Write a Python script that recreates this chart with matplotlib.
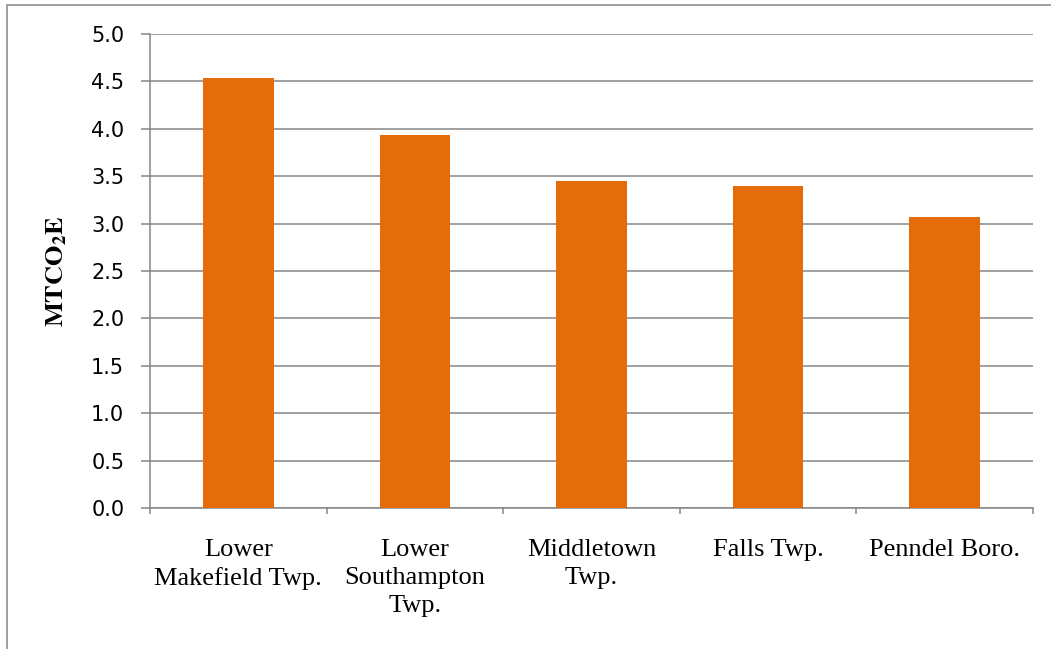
import numpy as np
import matplotlib
matplotlib.use("Agg")
import matplotlib.pyplot as plt
from matplotlib.patches import Rectangle

places = ["Lower\nMakefield Twp.", "Lower\nSouthampton\nTwp.", "Middletown\nTwp.",
          "Falls Twp.", "Penndel Boro."]
mtco2e = [4.54, 3.93, 3.45, 3.40, 3.07]
yticks = [0.0, 0.5, 1.0, 1.5, 2.0, 2.5, 3.0, 3.5, 4.0, 4.5, 5.0]

W, H = 1051, 649
grey = "#868686"

plt.rcParams["mathtext.fontset"] = "stix"

fig = plt.figure(figsize=(W / 100, H / 100), dpi=100)
ax = fig.add_axes([150 / W, 1 - 508 / H, 883 / W, (508 - 34) / H])

x = np.arange(len(places))
ax.bar(x, mtco2e, width=0.4, color="#E46C0A", zorder=3)

ax.set_xlim(-0.5, len(places) - 0.5)
ax.set_ylim(0, 5.0)
ax.set_yticks(yticks)
ax.set_yticklabels(["%.1f" % v for v in yticks], fontsize=15, family="DejaVu Sans")
ax.yaxis.grid(True, color=grey, lw=1.1, zorder=0)
ax.tick_params(axis="y", length=6.5, width=1.1, color=grey, pad=12)

# category labels in the middle, tick marks on the boundaries
ax.set_xticks(x)
ax.set_xticklabels(places, fontsize=19, family="Liberation Serif", linespacing=1.38, va="top")
ax.tick_params(axis="x", which="major", length=0, pad=22)
ax.set_xticks(np.arange(-0.5, len(places)), minor=True)
ax.tick_params(axis="x", which="minor", length=4.5, width=1.1, color=grey)

for s in ["top", "right"]:
    ax.spines[s].set_visible(False)
for s in ["left", "bottom"]:
    ax.spines[s].set_color(grey)
    ax.spines[s].set_linewidth(1.1)

fig.text(56 / W, 1 - 271 / H, r"$\mathbf{MTCO_2E}$", rotation=90, fontsize=19,
         ha="center", va="center")

# chart frame
fig.patches.append(Rectangle((7 / W, -0.1), 1.2, 1 - 5 / H + 0.1, transform=fig.transFigure,
                             fill=False, edgecolor=grey, lw=1.1))

fig.savefig("out.png", dpi=100)
